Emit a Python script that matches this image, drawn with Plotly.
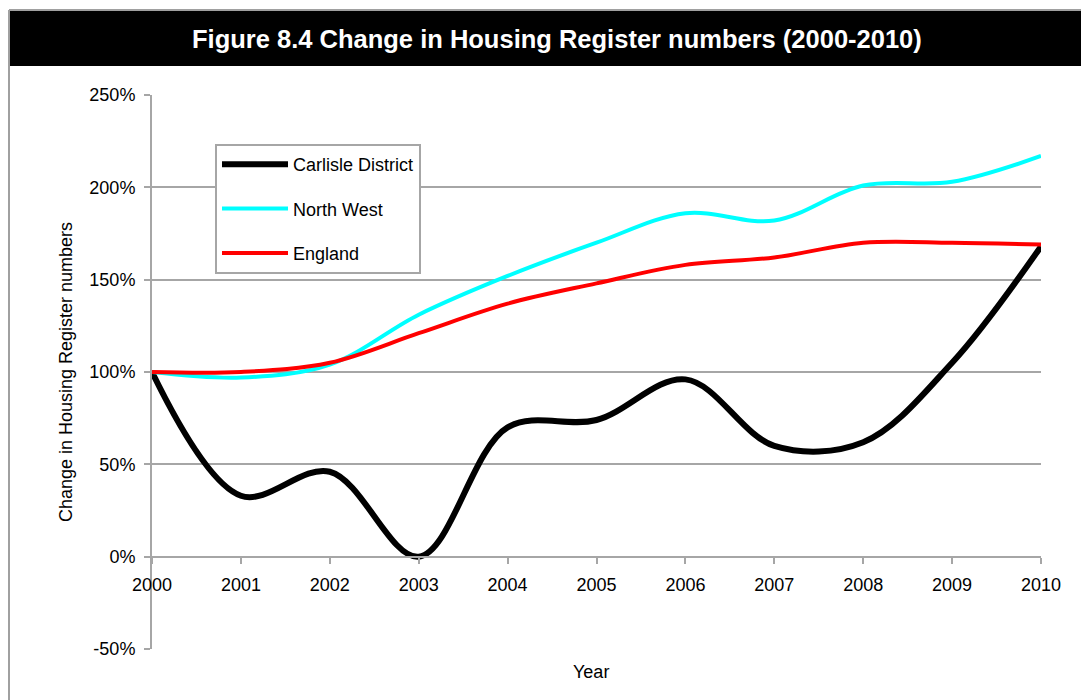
import plotly.graph_objects as go

years = [2000, 2001, 2002, 2003, 2004, 2005, 2006, 2007, 2008, 2009, 2010]
carlisle = [100, 33, 46, 0, 70, 74, 96, 60, 62, 105, 168]
north_west = [100, 97, 104, 131, 152, 170, 186, 182, 201, 203, 217]
england = [100, 100, 105, 121, 137, 148, 158, 162, 170, 170, 169]

y_ticks = [-50, 0, 50, 100, 150, 200, 250]
y_labels = ["-50%", "0%", "50%", "100%", "150%", "200%", "250%"]
title_text = "Figure 8.4 Change in Housing Register numbers (2000-2010)"

# page body has an 8px margin; work in screen pixels and convert
OFF = 8
W, H = 1089 - OFF, 700 - OFF
L, R, T, B = 152 - OFF, 1041 - OFF, 95 - OFF, 649 - OFF
pw, ph = R - L, B - T

def px(x):
    return (x - OFF - L) / pw

def py(y):
    return (B - (y - OFF)) / ph

FAM = "Liberation Sans, Arial, sans-serif"

fig = go.Figure()
fig.add_trace(go.Scatter(x=years, y=carlisle, name="Carlisle District", mode="lines",
                         line=dict(color="#000000", width=6, shape="spline", smoothing=1.0),
                         legendgroup="a"))
fig.add_trace(go.Scatter(x=years, y=north_west, name="North West", mode="lines",
                         line=dict(color="#00FFFF", width=4, shape="spline", smoothing=1.0),
                         legendgroup="b"))
fig.add_trace(go.Scatter(x=years, y=england, name="England", mode="lines",
                         line=dict(color="#FF0000", width=4, shape="spline", smoothing=1.0),
                         legendgroup="c"))

grid = "#a6a6a6"

fig.update_layout(
    width=W, height=H,
    margin=dict(l=L, r=W - R, t=T, b=H - B, pad=0),
    paper_bgcolor="white", plot_bgcolor="white",
    font=dict(family=FAM, size=18, color="#000000"),
    showlegend=True,
    legend=dict(x=px(215), y=py(144), xanchor="left", yanchor="top",
                bordercolor=grid, borderwidth=2, bgcolor="white",
                font=dict(family=FAM, size=18),
                tracegroupgap=18, itemwidth=66),
    xaxis=dict(range=[2000, 2010], tickmode="array", tickvals=years,
               ticktext=[str(y) for y in years],
               anchor="free", position=1 / 6,
               showline=True, linecolor=grid, linewidth=2,
               ticks="outside", ticklen=6, tickwidth=2, tickcolor=grid,
               ticklabelstandoff=6,
               showgrid=False, zeroline=False,
               tickfont=dict(family=FAM, size=18)),
    yaxis=dict(range=[-50, 250], tickmode="array", tickvals=y_ticks, ticktext=y_labels,
               showline=True, linecolor=grid, linewidth=2,
               ticks="outside", ticklen=6, tickwidth=2, tickcolor=grid,
               ticklabelstandoff=5,
               showgrid=True, gridcolor=grid, gridwidth=2, zeroline=False,
               tickfont=dict(family=FAM, size=18),
               title=dict(text="Change in Housing Register numbers",
                          font=dict(family=FAM, size=18), standoff=12)),
    shapes=[
        dict(type="rect", xref="paper", yref="paper",
             x0=px(9), x1=px(1095), y0=py(66), y1=py(11),
             fillcolor="#000000", line=dict(width=0), layer="below"),
        dict(type="line", xref="paper", yref="paper",
             x0=px(9), x1=px(1095), y0=py(10), y1=py(10),
             line=dict(color="#a0a0a0", width=2)),
        dict(type="line", xref="paper", yref="paper",
             x0=px(9), x1=px(9), y0=py(10), y1=py(705),
             line=dict(color="#a0a0a0", width=2)),
    ],
    annotations=[
        dict(text="<b>" + title_text + "</b>", xref="paper", yref="paper",
             x=px(557), y=py(39), xanchor="center", yanchor="middle", showarrow=False,
             font=dict(family=FAM, size=25.5, color="white")),
        dict(text="Year", xref="paper", yref="paper", x=px(591), y=py(672),
             xanchor="center", yanchor="middle", showarrow=False,
             font=dict(family=FAM, size=18)),
    ],
)

fig.write_html("out.html")
